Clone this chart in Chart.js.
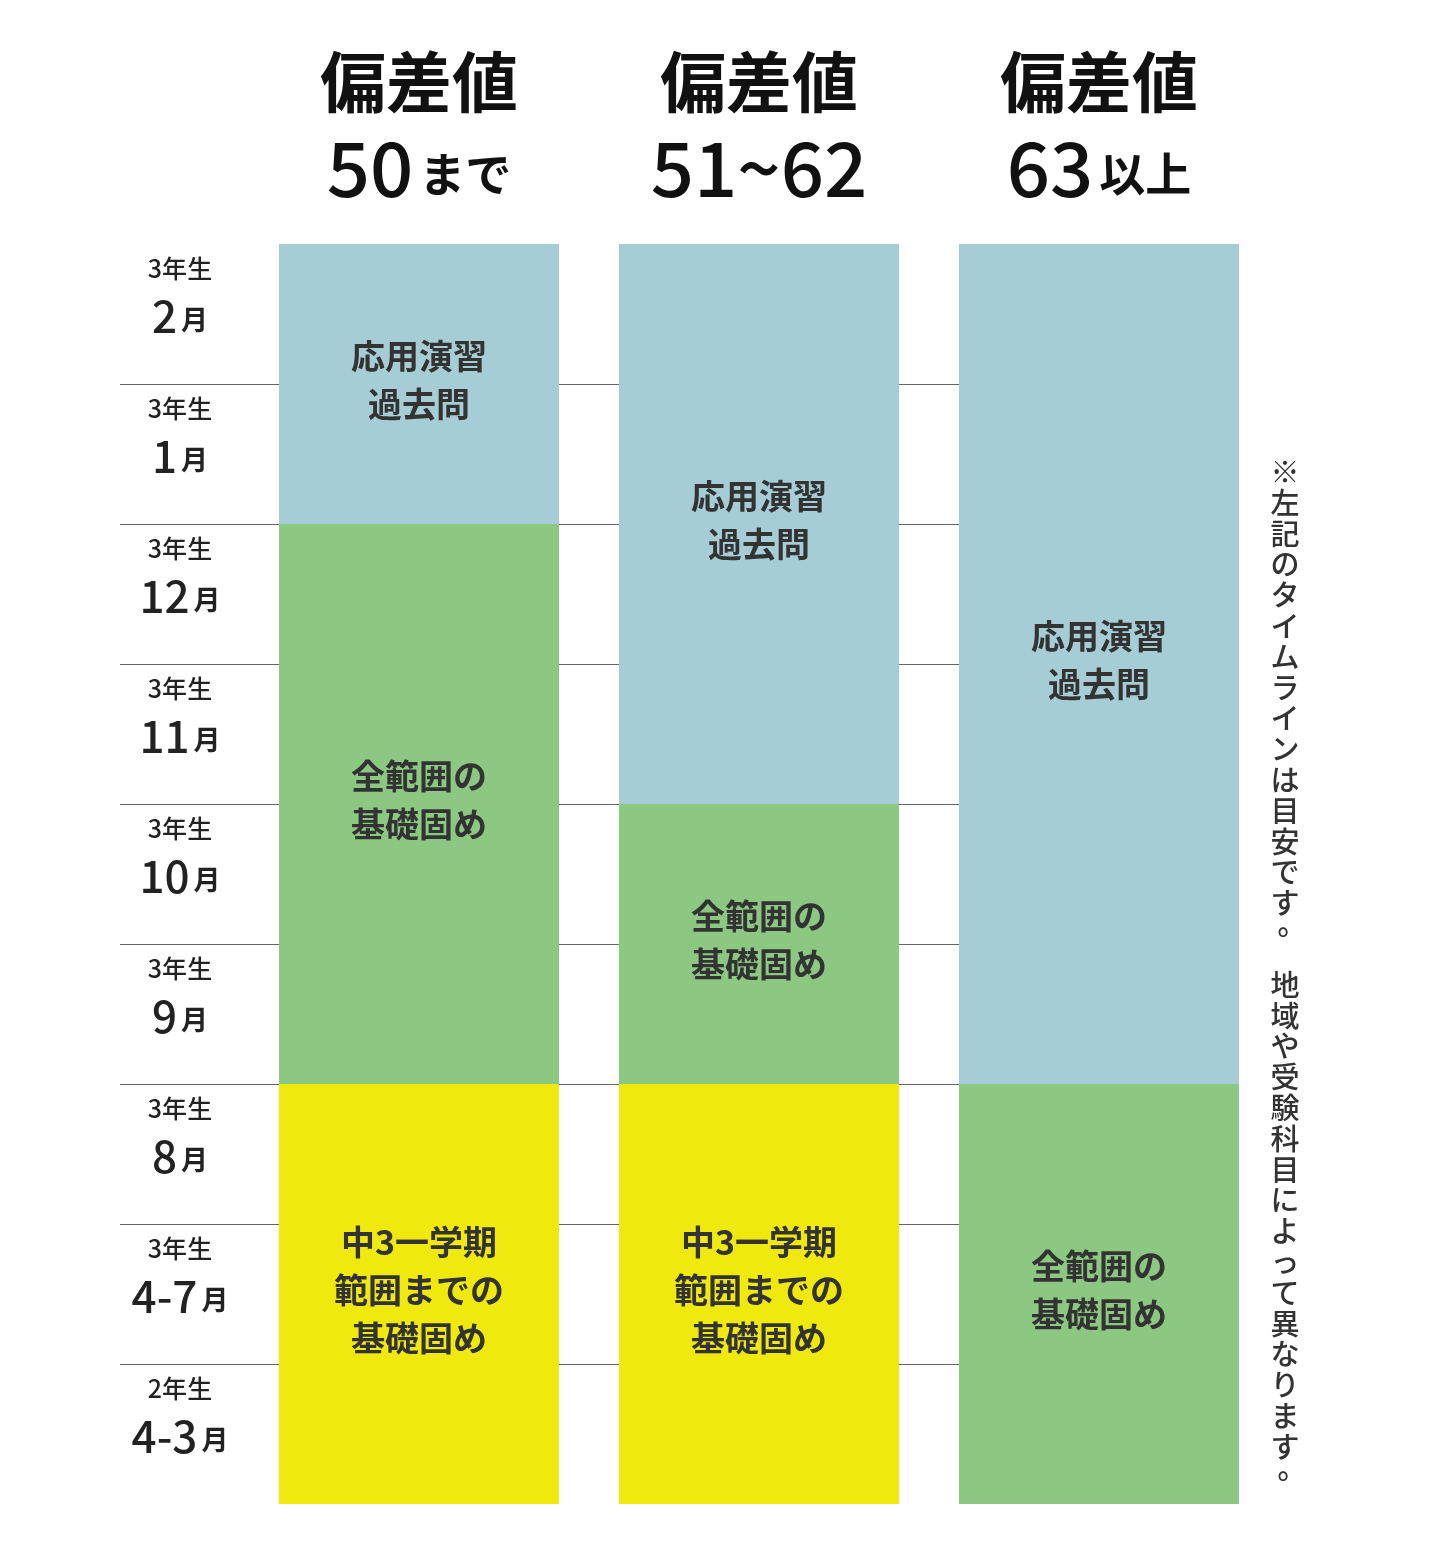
<!DOCTYPE html>
<html><head><meta charset="utf-8">
<script src="https://cdn.jsdelivr.net/npm/chart.js@4"></script>
<style>html,body{margin:0;background:#fff}</style></head>
<body><canvas id="c" width="1440" height="1560"></canvas>
<script>
const columns = ['偏差値50まで','偏差値51~62','偏差値63以上'];
const headerNum = ['50','51~62','63'];
const headerSuffix = ['まで','','以上'];
// rows from bottom (0) to top (8)
const rowGrade = ['2年生','3年生','3年生','3年生','3年生','3年生','3年生','3年生','3年生'];
const rowNum = ['4-3','4-7','8','9','10','11','12','1','2'];
const yellowSeg = [[0,3],[0,3],null];
const greenSeg = [[3,7],[3,5],[0,3]];
const blueSeg = [[7,9],[5,9],[3,9]];
const yellowLabel = ['中3一学期\n範囲までの\n基礎固め','中3一学期\n範囲までの\n基礎固め',''];
const greenLabel = ['全範囲の\n基礎固め','全範囲の\n基礎固め','全範囲の\n基礎固め'];
const blueLabel = ['応用演習\n過去問','応用演習\n過去問','応用演習\n過去問'];
const note = '※左記のタイムラインは目安です。 地域や受験科目によって異なります。';

const F = '"Noto Sans CJK JP", "Noto Sans", sans-serif';
const plugin = {
  id:'deco',
  beforeDatasetsDraw(ch){
    const c=ch.ctx, y=ch.scales.y;
    c.save(); c.strokeStyle='#666'; c.lineWidth=1.2;
    for(let i=1;i<9;i++){const p=Math.round(y.getPixelForValue(i))+0.5;c.beginPath();c.moveTo(120,p);c.lineTo(959,p);c.stroke();}
    c.restore();
  },
  afterDatasetsDraw(ch){
    const c=ch.ctx, x=ch.scales.x, y=ch.scales.y;
    c.save(); c.textAlign='center'; c.textBaseline='middle'; c.fillStyle='#111';
    // headers
    columns.forEach((_,i)=>{
      const cx=x.getPixelForValue(i);
      c.font='bold 66px '+F; c.textAlign='center'; c.fillText('偏差値',cx,82);
      c.font='500 76px '+F; const w1=c.measureText(headerNum[i]).width;
      c.font='bold 46px '+F; const w2=c.measureText(headerSuffix[i]).width;
      let sx=cx-(w1+w2+(w2?6:0))/2; c.textAlign='left';
      c.font='500 76px '+F; c.fillText(headerNum[i],sx,168);
      c.font='bold 46px '+F; c.fillText(headerSuffix[i],sx+w1+6,174);
    });
    // row labels
    c.fillStyle='#222';
    rowGrade.forEach((g,i)=>{
      const cy=y.getPixelForValue(i+0.5);
      c.textAlign='center'; c.font='500 25px '+F; c.fillText(g,180,cy-46);
      c.font='500 44px '+F; const w1=c.measureText(rowNum[i]).width;
      c.font='bold 27px '+F; const w2=c.measureText('月').width;
      const sx=180-(w1+w2+4)/2; c.textAlign='left';
      c.font='500 44px '+F; c.fillText(rowNum[i],sx,cy+2);
      c.font='bold 27px '+F; c.fillText('月',sx+w1+4,cy+6);
    });
    // segment labels
    c.textAlign='center'; c.font='bold 34px '+F; c.fillStyle='#333';
    const lab=(segs,labs)=>segs.forEach((s,i)=>{ if(!s||!labs[i])return;
      const lines=labs[i].split('\n'); const cy=y.getPixelForValue((s[0]+s[1])/2)-4;
      lines.forEach((l,k)=>c.fillText(l,x.getPixelForValue(i),cy+(k-(lines.length-1)/2)*48));});
    lab(yellowSeg,yellowLabel); lab(greenSeg,greenLabel); lab(blueSeg,blueLabel);
    // vertical note
    c.font='500 29px '+F; c.fillStyle='#333';
    let vy=472;
    for(const ch2 of note){ if(ch2===' '){vy+=20;continue;}
      if(ch2==='。'){c.fillText(ch2,1292,vy-10);} else c.fillText(ch2,1285,vy);
      vy+=30.8; }
    c.restore();
  }
};
new Chart(document.getElementById('c'),{
  type:'bar',
  data:{labels:columns,datasets:[
    {data:yellowSeg,backgroundColor:'#f0e90e',grouped:false},
    {data:greenSeg,backgroundColor:'#8cc882',grouped:false},
    {data:blueSeg,backgroundColor:'#a6cdd6',grouped:false}]},
  options:{responsive:false,animation:false,
    layout:{padding:{left:249,right:171,top:244,bottom:56}},
    categoryPercentage:1,barPercentage:280/340,
    plugins:{legend:{display:false},tooltip:{enabled:false}},
    scales:{x:{display:false},y:{display:false,min:0,max:9}}},
  plugins:[plugin]
});
</script></body></html>
